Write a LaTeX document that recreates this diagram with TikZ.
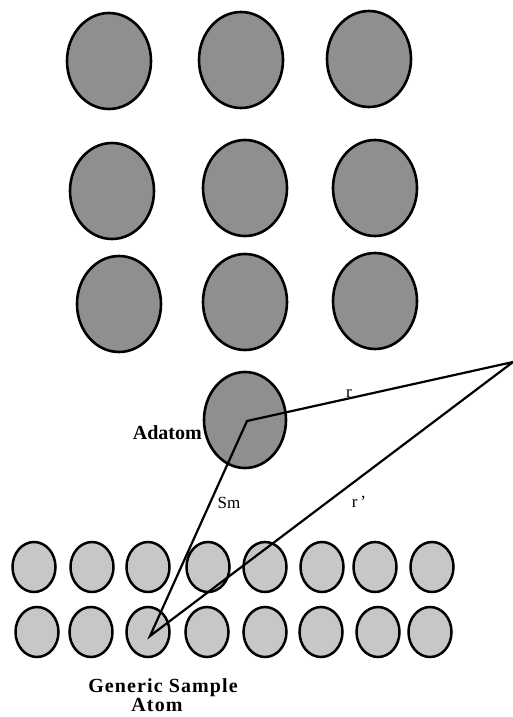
\documentclass[tikz,border=0pt]{standalone}
\usepackage{fontspec}
\setmainfont{Liberation Serif}
\usetikzlibrary{shapes.geometric}
\definecolor{lattice}{gray}{0.56}
\definecolor{sample}{gray}{0.78}
\tikzset{
  bigatom/.style={ellipse, draw=black, line width=2.6pt, fill=lattice,
    minimum width=84pt, minimum height=96pt, inner sep=0pt},
  smallatom/.style={ellipse, draw=black, line width=2.5pt, fill=sample,
    minimum width=43pt, minimum height=50pt, inner sep=0pt},
  bond/.style={line width=2.2pt, line join=miter},
  biglabel/.style={font=\fontsize{20}{18}\selectfont\bfseries, inner sep=0pt},
  widelabel/.style={inner sep=0pt,
    font=\fontsize{20}{18}\selectfont\bfseries\addfontfeatures{LetterSpace=5.5}},
  smalllabel/.style={font=\fontsize{17}{18}\selectfont, inner sep=0pt}
}
\begin{document}
\begin{tikzpicture}[x=1pt, y=-1pt]
\useasboundingbox (0,0) rectangle (513,717);
\fill[white] (0,0) rectangle (513,717);

% surface lattice (3 x 3)
\node[bigatom] (l11) at (109,61) {};
\node[bigatom] (l12) at (241,60) {};
\node[bigatom] (l13) at (369,59) {};
\node[bigatom] (l21) at (112,191) {};
\node[bigatom] (l22) at (245,188) {};
\node[bigatom] (l23) at (375,188) {};
\node[bigatom] (l31) at (119,304) {};
\node[bigatom] (l32) at (245,302) {};
\node[bigatom] (l33) at (375,301) {};

% adatom
\node[bigatom, minimum width=82pt] (ad) at (245,420) {};

% sample atoms, two rows of eight
\foreach \x [count=\i] in {34,92,148,208,265,322,375,432}
  \node[smallatom] (s1\i) at (\x,567) {};
\foreach \x [count=\i] in {37,91,148,207,265,321,378,430}
  \node[smallatom] (s2\i) at (\x,632) {};

% far point and bonds
\coordinate (far) at (513,362);
\coordinate (adc) at (247,421);
\coordinate (gsc) at (150,636);
\draw[bond] (adc) -- (far) -- (gsc) -- cycle;

% labels
\node[biglabel, anchor=base east] (tad) at (202,439) {Adatom};
\node[smalllabel, anchor=base] (tr) at (349,397) {r};
\node[smalllabel, anchor=base] (tsm) at (229,508) {Sm};
\node[smalllabel, anchor=base] (trp) at (359,507) {r\,'};
\node[widelabel, anchor=base] (tgs) at (163,692) {Generic Sample};
\node[widelabel, anchor=base] (tga) at (157,711) {Atom};
\end{tikzpicture}
\end{document}
